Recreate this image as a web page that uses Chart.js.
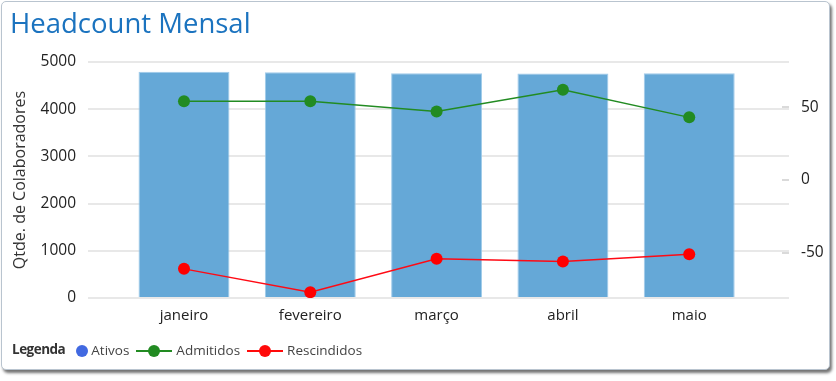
<!DOCTYPE html>
<html>
<head>
<meta charset="utf-8">
<script src="https://cdn.jsdelivr.net/npm/chart.js@4/dist/chart.umd.min.js"></script>
<style>
  html, body { margin: 0; padding: 0; background: #ffffff; width: 836px; height: 381px; overflow: hidden; }
  #frame { position: absolute; left: 1px; top: 1px; width: 827px; height: 367px; border: 1px solid #b9c4cf; border-radius: 5px; background: #fff; box-shadow: 2px 3px 3px rgba(0,0,0,0.55); }
  #c { position: absolute; left: 0; top: 0; }
  #legend { position: absolute; left: 12px; top: 339px; font-family: "Segoe UI", "Open Sans", sans-serif; font-size: 13.5px; color: #444; white-space: nowrap; height: 20px; line-height: 20px; }
  #legend .t { font-weight: bold; color: #333; margin-right: 11px; letter-spacing: -0.5px; }
  #legend .item { display: inline-block; vertical-align: middle; margin-right: 7px; }
  #legend .dot { display: inline-block; width: 12px; height: 12px; border-radius: 50%; vertical-align: middle; margin-right: 3px; position: relative; top: -1px; }
  #legend .ln { display: inline-block; position: relative; width: 36px; height: 12px; vertical-align: middle; margin-right: 4px; top: -1px; }
  #legend .ln::before { content: ""; position: absolute; left: 0; right: 0; top: 5px; height: 2px; background: var(--c); }
  #legend .ln::after { content: ""; position: absolute; left: 12px; top: 0; width: 12px; height: 12px; border-radius: 50%; background: var(--c); }
</style>
</head>
<body>
<div id="frame"></div>
<canvas id="c" width="836" height="381"></canvas>
<div id="legend">
  <span class="t">Legenda</span><span class="item"><span class="dot" style="background:#4169e1"></span>Ativos</span><span class="item"><span class="ln" style="--c:#228b22"></span>Admitidos</span><span class="item"><span class="ln" style="--c:#ff0a0a"></span>Rescindidos</span>
</div>
<script>
const meses = ["janeiro", "fevereiro", "março", "abril", "maio"];
const ativos = [4795, 4782, 4762, 4755, 4760];
const admitidos = [54, 54, 47, 62, 43];
const rescindidos = [-61, -77, -54, -56, -51];
const leftTicks = [0, 1000, 2000, 3000, 4000, 5000];
const rightTicks = [-50, 0, 50];

const FONT = '"Segoe UI", "Open Sans", sans-serif';

new Chart(document.getElementById('c'), {
  data: {
    datasets: [
      {
        type: 'line', label: 'Admitidos', yAxisID: 'y1', order: 1,
        data: admitidos.map((v, i) => ({ x: i, y: v })),
        borderColor: '#228b22', backgroundColor: '#228b22', borderWidth: 1.5,
        pointRadius: 6, pointHoverRadius: 6, pointBorderWidth: 0, tension: 0
      },
      {
        type: 'line', label: 'Rescindidos', yAxisID: 'y1', order: 1,
        data: rescindidos.map((v, i) => ({ x: i, y: v })),
        borderColor: '#ff0a14', backgroundColor: '#ff0000', borderWidth: 1.5,
        pointRadius: 6, pointHoverRadius: 6, pointBorderWidth: 0, tension: 0
      },
      {
        type: 'bar', label: 'Ativos', yAxisID: 'y', order: 2,
        data: ativos.map((v, i) => ({ x: i, y: v })),
        backgroundColor: '#65a8d7', borderColor: '#9fcaea', borderWidth: 1,
        barPercentage: 0.9, categoryPercentage: 0.8
      }
    ]
  },
  options: {
    responsive: false,
    animation: false,
    events: [],
    layout: { padding: { left: 10, right: 0, top: 0, bottom: 45 } },
    plugins: {
      legend: { display: false },
      tooltip: { enabled: false },
      title: {
        display: true, text: 'Headcount Mensal', align: 'start',
        color: '#1b73bf', font: { family: FONT, size: 27.5, weight: 'normal' },
        padding: { top: 9, bottom: 20 }
      }
    },
    scales: {
      x: {
        type: 'linear', position: 'bottom', min: -0.76, max: 4.79, offset: false,
        afterBuildTicks: s => { s.ticks = meses.map((m, i) => ({ value: i })); },
        afterFit: s => { s.height = 38; },
        ticks: { callback: v => meses[v], color: '#222', font: { family: FONT, size: 15 }, padding: 1, maxRotation: 0, autoSkip: false },
        grid: { display: false, offset: false }, border: { display: false }
      },
      y: {
        position: 'left', min: 0, max: 5000,
        afterBuildTicks: s => { s.ticks = leftTicks.map(v => ({ value: v })); },
        afterFit: s => { s.width = 78; },
        ticks: { color: '#222', font: { family: FONT, size: 15.5 }, padding: 12, callback: v => String(v) },
        grid: { color: '#e8e8e8', lineWidth: 2, drawTicks: false },
        border: { display: false },
        title: { display: true, text: 'Qtde. de Colaboradores', color: '#333', font: { family: FONT, size: 16 }, padding: { top: 1, bottom: 0 } }
      },
      y1: {
        position: 'right', min: -81, max: 81,
        afterBuildTicks: s => { s.ticks = rightTicks.map(v => ({ value: v })); },
        afterFit: s => { s.width = 47; },
        ticks: { color: '#222', font: { family: FONT, size: 15.5 }, padding: 19, callback: v => String(v) },
        grid: { drawOnChartArea: false, drawTicks: true, tickLength: -7, color: '#dadada', lineWidth: 2 },
        border: { display: false }
      }
    }
  }
});
</script>
</body>
</html>
